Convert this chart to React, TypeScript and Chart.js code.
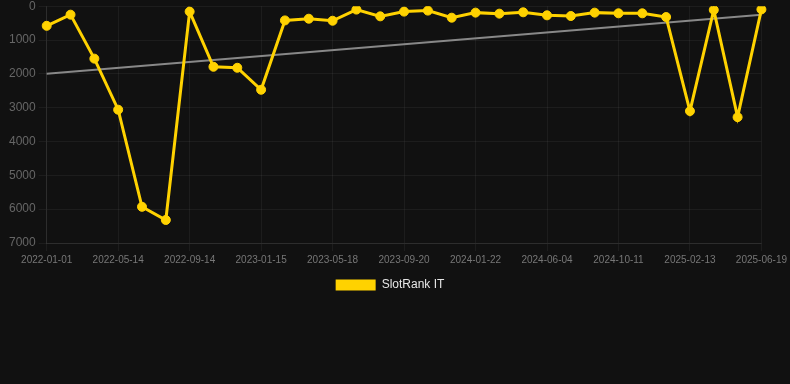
import React, { useEffect, useRef } from "react";
import { Chart, registerables } from "chart.js";

Chart.register(...registerables);

const labels: string[] = [
  "2022-01-01", "2022-02-14", "2022-03-30", "2022-05-14", "2022-06-24", "2022-08-04",
  "2022-09-14", "2022-10-25", "2022-12-05", "2023-01-15", "2023-02-25", "2023-04-07",
  "2023-05-18", "2023-06-29", "2023-08-09", "2023-09-20", "2023-10-31", "2023-12-11",
  "2024-01-22", "2024-03-06", "2024-04-20", "2024-06-04", "2024-07-17", "2024-08-29",
  "2024-10-11", "2024-11-22", "2025-01-02", "2025-02-13", "2025-03-27", "2025-05-08",
  "2025-06-19",
];

const slotRankIT: number[] = [
  580, 250, 1550, 3060, 5930, 6320, 160, 1790, 1820, 2470, 420, 370, 430, 100, 300, 160,
  130, 340, 190, 220, 180, 270, 290, 190, 210, 210, 320, 3100, 110, 3280, 95,
];

const trendStart = 2000;
const trendEnd = 250;
const trend: (number | null)[] = labels.map((_, i) =>
  i === 0 ? trendStart : i === labels.length - 1 ? trendEnd : null
);

const yTicks = [0, 1000, 2000, 3000, 4000, 5000, 6000, 7000];

export default function App() {
  const ref = useRef<HTMLCanvasElement | null>(null);

  useEffect(() => {
    document.body.style.margin = "0";
    document.body.style.background = "#111111";
    if (!ref.current) return;
    const chart = new Chart(ref.current, {
      type: "line",
      data: {
        labels,
        datasets: [
          {
            label: "SlotRank IT",
            data: slotRankIT,
            borderColor: "#ffd200",
            backgroundColor: "#ffd200",
            borderWidth: 3,
            pointRadius: 4.5,
            pointBorderWidth: 1,
            pointHoverRadius: 4.5,
            pointBackgroundColor: "#ffd200",
            pointBorderColor: "#ffd200",
            tension: 0,
          },
          {
            label: "trend",
            data: trend,
            borderColor: "#888888",
            backgroundColor: "#888888",
            borderWidth: 2,
            pointRadius: 0,
            spanGaps: true,
          },
        ],
      },
      options: {
        animation: false,
        responsive: false,
        maintainAspectRatio: false,
        layout: { padding: { left: 6, right: 16, top: 0, bottom: 0 } },
        plugins: {
          legend: {
            position: "bottom",
            labels: {
              color: "#e6e6e6",
              font: { family: "'Liberation Sans', Arial, sans-serif", size: 12 },
              boxWidth: 40,
              boxHeight: 11,
              generateLabels: (c) =>
                Chart.defaults.plugins.legend.labels
                  .generateLabels(c)
                  .filter((item) => item.text !== "trend")
                  .map((item) => ({ ...item, lineWidth: 0 })),
            },
          },
          tooltip: { enabled: false },
        },
        scales: {
          x: {
            grid: { color: "rgba(255,255,255,0.05)" },
            border: { color: "rgba(255,255,255,0.08)" },
            ticks: {
              autoSkip: false,
              maxRotation: 0,
              color: "#777777",
              font: { family: "'Liberation Sans', Arial, sans-serif", size: 10 },
              callback: (_v, i) => (i % 3 === 0 ? labels[i] : null),
            },
          },
          y: {
            reverse: true,
            min: yTicks[0],
            max: yTicks[yTicks.length - 1],
            grid: { color: "rgba(255,255,255,0.05)" },
            border: { color: "rgba(255,255,255,0.08)" },
            ticks: {
              stepSize: 1000,
              color: "#666666",
              font: { family: "'Liberation Sans', Arial, sans-serif", size: 12 },
              callback: (v) => String(v),
            },
          },
        },
      },
    });
    return () => chart.destroy();
  }, []);

  return (
    <div style={{ width: 790, height: 384, background: "#111111", overflow: "hidden" }}>
      <canvas
        ref={ref}
        width={790}
        height={305}
        style={{ display: "block", marginTop: -4 }}
      />
    </div>
  );
}
